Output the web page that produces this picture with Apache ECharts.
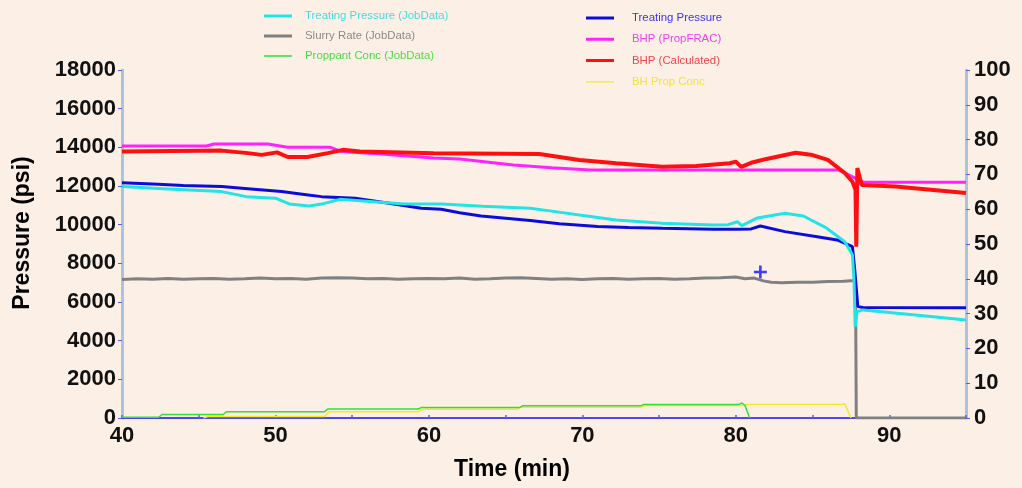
<!DOCTYPE html>
<html><head><meta charset="utf-8">
<script src="https://cdn.jsdelivr.net/npm/echarts@6/dist/echarts.min.js"></script>
<style>html,body{margin:0;padding:0;background:#fcf0e6}#c{width:1022px;height:488px}</style>
</head><body><div id="c"></div><script>
// Time (min) vs value pairs
const treatingPressureJobData = [[40,11970],[43,11850],[46.5,11710],[48.1,11450],[50,11370],[50.9,11070],[52.2,10970],[53.2,11100],[54.2,11310],[55.5,11240],[58.4,11070],[60.8,11070],[63.5,10950],[66.6,10850],[68,10700],[69.8,10500],[72.2,10240],[75.2,10070],[78.5,9980],[79.5,10000],[80.1,10150],[80.4,9950],[81.4,10350],[83.2,10590],[84.4,10450],[85.9,9830],[87.1,9120],[87.6,8430],[87.7,7140],[87.78,4720],[87.9,5500],[88.3,5590],[91.7,5330],[95,5070]];
const slurryRateJobData = [[40,39.8],[41,40.0],[42,39.9],[43,40.1],[44,39.9],[45,40.0],[46,40.1],[47,39.9],[48,40.0],[49,40.2],[50,40.0],[51,40.1],[52,39.9],[53,40.2],[54,40.3],[55,40.2],[56,40.0],[57,40.1],[58,39.9],[59,40.0],[60,40.1],[61,40.0],[62,40.2],[63,39.9],[64,40.0],[65,40.2],[66,40.3],[67,40.1],[68,39.9],[69,40.0],[70,39.8],[71,40.0],[72,40.1],[73,39.9],[74,40.0],[75,40.1],[76,39.9],[77,40.0],[78,40.2],[79,40.3],[80,40.5],[80.6,40.0],[81.2,40.2],[81.8,39.4],[82.3,39.0],[83,38.9],[84,39.0],[85,39.0],[86,39.2],[87,39.3],[87.8,39.5],[87.85,0],[95,0]];
const proppantConcJobData = [[40,0.2],[42.4,0.2],[42.6,1.0],[46.6,1.0],[46.8,1.8],[53.2,1.8],[53.4,2.6],[59.3,2.6],[59.5,3.0],[65.9,3.0],[66.1,3.5],[73.8,3.5],[74.0,3.9],[80.2,3.9],[80.4,4.3],[80.6,3.6],[80.9,0]];
const treatingPressure = [[40,12170],[42,12100],[44,12030],[46.5,11970],[48,11870],[50.4,11710],[52,11550],[53,11450],[55.2,11370],[57.4,11110],[59.5,10850],[60.8,10800],[62,10620],[63.4,10450],[65,10330],[66.6,10210],[68.5,10050],[71,9900],[73,9850],[75.2,9810],[78.5,9760],[80.2,9760],[81,9780],[81.6,9930],[83.2,9640],[85.3,9380],[86.6,9210],[87.6,8860],[87.75,7660],[87.95,5760],[88.3,5720],[95,5700]];
const bhpPropFrac = [[40,14070],[45.5,14070],[46,14170],[49.5,14170],[50.8,14000],[53.6,14000],[54.3,13780],[56.9,13660],[60.3,13450],[62,13400],[65.5,13090],[68,12950],[70.5,12830],[86.7,12830],[88.3,12200],[95,12200]];
const bhpCalculated = [[40,13780],[46.5,13830],[48.2,13700],[49.1,13610],[50.1,13740],[50.8,13500],[52.1,13500],[53.4,13700],[54.4,13870],[55.5,13780],[60.3,13700],[67.2,13660],[69.8,13350],[72.2,13180],[75.2,13000],[77.4,13040],[79.6,13180],[80,13260],[80.35,12990],[81,13200],[82,13400],[83.9,13720],[85,13600],[86,13350],[87.1,12670],[87.6,12220],[87.8,11800],[87.85,8860],[87.92,12930],[88.2,12050],[90.4,11970],[95,11640]];
const bhPropConc = [[45.3,0],[45.6,0.4],[53.2,0.4],[53.5,1.8],[59.3,1.8],[59.6,2.5],[65.7,2.5],[66.0,3.1],[73.8,3.1],[74.1,3.6],[80.4,3.6],[80.7,3.9],[86.9,3.9],[87.1,4.1],[87.5,0]];
const markerPoint = [[81.6,7550]];

const F = 'Liberation Sans, Arial, sans-serif';
// legend icons: 28x14 box with a centred stroke (tiny corner dots keep the box size)
const ICON_THICK = 'path://M0,0H0.05V0.05H0Z M0,5.5H28V8.5H0Z M27.95,13.95H28V14H27.95Z';
const ICON_THIN = 'path://M0,0H0.05V0.05H0Z M0,6.3H28V7.7H0Z M27.95,13.95H28V14H27.95Z';
const chart = echarts.init(document.getElementById('c'));
const mkLine = (name, data, color, width, yAxisIndex) => ({
  name, type: 'line', data, yAxisIndex, symbol: 'none', showSymbol: false,
  lineStyle: { color, width }, itemStyle: { color }, animation: false
});
chart.setOption({
  backgroundColor: '#fcf0e6',
  animation: false,
  textStyle: { fontFamily: F },
  grid: { left: 122, right: 56, top: 70, bottom: 70 },
  legend: [
    { left: 264, top: 9, padding: 0, orient: 'vertical', itemWidth: 28, itemHeight: 14, itemGap: 6,
      textStyle: { fontSize: 11.4, fontFamily: F, padding: [0,0,0,8] },
      data: [
        { name: 'Treating Pressure (JobData)', icon: ICON_THICK, textStyle: { color: '#3fe0e0' } },
        { name: 'Slurry Rate (JobData)', icon: ICON_THICK, textStyle: { color: '#8a8a8a' } },
        { name: 'Proppant Conc (JobData)', icon: ICON_THIN, textStyle: { color: '#44dd44' } }
      ] },
    { left: 586, top: 11, padding: 0, orient: 'vertical', itemWidth: 28, itemHeight: 14, itemGap: 7.3,
      textStyle: { fontSize: 11.4, fontFamily: F, padding: [0,0,0,13] },
      data: [
        { name: 'Treating Pressure', icon: ICON_THICK, textStyle: { color: '#3434e4' } },
        { name: 'BHP (PropFRAC)', icon: ICON_THICK, textStyle: { color: '#f040f0' } },
        { name: 'BHP (Calculated)', icon: ICON_THICK, textStyle: { color: '#f04444' } },
        { name: 'BH Prop Conc', icon: ICON_THIN, textStyle: { color: '#f2e23a' } }
      ] }
  ],
  xAxis: {
    type: 'value', min: 40, max: 95, interval: 5,
    name: 'Time (min)', nameLocation: 'middle', nameGap: 40,
    nameTextStyle: { fontSize: 23, fontWeight: 'bold', color: '#000', fontFamily: F, padding: [0,64,0,0] },
    axisLine: { lineStyle: { color: '#4a4ae8', width: 2 } },
    axisTick: { inside: true, length: 3, lineStyle: { color: '#5a5aee', width: 1.5 } },
    axisLabel: { fontSize: 22, fontWeight: 'bold', color: '#111', margin: 7, fontFamily: F,
      formatter: v => (v % 10 === 0 ? String(v) : '') },
    splitLine: { show: false }
  },
  yAxis: [
    { type: 'value', min: 0, max: 18000, interval: 2000, position: 'left',
      name: 'Pressure (psi)', nameLocation: 'middle', nameGap: 88,
      nameTextStyle: { fontSize: 23, fontWeight: 'bold', color: '#000', fontFamily: F, padding: [0,0,0,22] },
      axisLine: { show: true, lineStyle: { color: '#a9c3e3', width: 3 } },
      axisTick: { show: true, length: 4, lineStyle: { color: '#5a5aee' } },
      axisLabel: { fontSize: 22, fontWeight: 'bold', color: '#111', margin: 6, fontFamily: F,
        formatter: v => String(v) },
      splitLine: { show: false } },
    { type: 'value', min: 0, max: 100, interval: 10, position: 'right',
      axisLine: { show: true, lineStyle: { color: '#a9c3e3', width: 3 } },
      axisTick: { show: true, length: 4, lineStyle: { color: '#5a5aee' } },
      axisLabel: { fontSize: 22, fontWeight: 'bold', color: '#111', margin: 8, fontFamily: F,
        formatter: v => String(v) },
      splitLine: { show: false } }
  ],
  series: [
    mkLine('BH Prop Conc', bhPropConc, '#f2ea20', 1.5, 1),
    mkLine('Proppant Conc (JobData)', proppantConcJobData, '#33dd33', 1.5, 1),
    mkLine('Slurry Rate (JobData)', slurryRateJobData, '#808080', 3, 1),
    mkLine('BHP (PropFRAC)', bhpPropFrac, '#ff22ff', 3, 0),
    mkLine('BHP (Calculated)', bhpCalculated, '#ff1010', 4, 0),
    mkLine('Treating Pressure', treatingPressure, '#0c0cd8', 3, 0),
    mkLine('Treating Pressure (JobData)', treatingPressureJobData, '#22e4e4', 3, 0),
    { name: 'marker', type: 'scatter', data: markerPoint, yAxisIndex: 0,
      symbol: 'path://M4,0H6V4H10V6H6V10H4V6H0V4H4Z', symbolSize: 13,
      itemStyle: { color: '#1010f0' }, animation: false }
  ]
});
</script></body></html>
